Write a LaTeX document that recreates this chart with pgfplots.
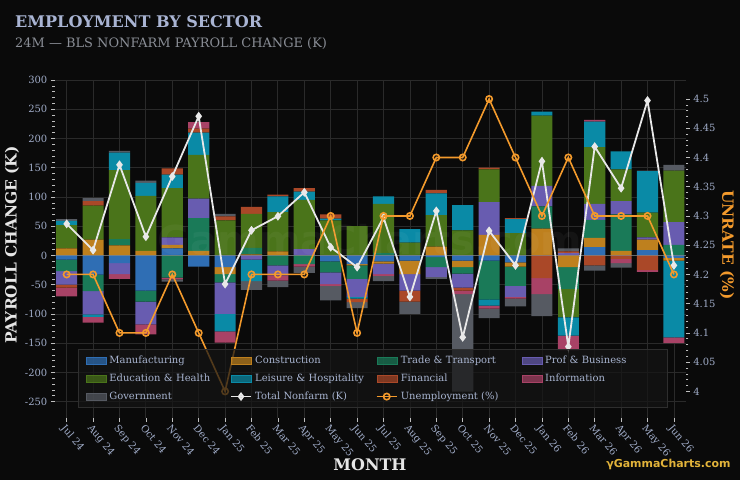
\documentclass[border=0pt]{standalone}
\usepackage{fontspec}
\setmainfont{DejaVu Serif}
\newfontfamily\logofont{DejaVu Sans}
\usepackage{pgfplots}
\usepackage{pgfplotstable}
\pgfplotsset{compat=1.18}

\definecolor{bg}{HTML}{0A0A0A}
\definecolor{gridc}{HTML}{2A2A2A}
\definecolor{tickc}{HTML}{BFBFBF}
\definecolor{ticklab}{HTML}{A0ACC8}
\definecolor{titlec}{HTML}{A9B4D3}
\definecolor{subc}{HTML}{8A8E96}
\definecolor{labc}{HTML}{E6E6E6}
\definecolor{legtext}{HTML}{A8B4D0}
\definecolor{legbg}{HTML}{151515}
\definecolor{legborder}{HTML}{2E2E2E}
\definecolor{cmfg}{HTML}{2F6EB4}
\definecolor{ccon}{HTML}{BE801E}
\definecolor{ctrd}{HTML}{1A7A58}
\definecolor{cprof}{HTML}{685CB0}
\definecolor{cedu}{HTML}{4A741A}
\definecolor{clei}{HTML}{0A8AA6}
\definecolor{cfin}{HTML}{AA4828}
\definecolor{cinfo}{HTML}{A84266}
\definecolor{cgov}{HTML}{565A62}
\definecolor{totc}{HTML}{E8E8E8}
\definecolor{urc}{HTML}{F39A2C}
\definecolor{logoc}{HTML}{E2B33A}

\pgfplotstableread{
i mfg con trd prof edu lei fin info gov total ur
0 -7 12 -20 -23 40 7 -5 -15 3 54 4.2
1 -33 27 -28 -40 58 -4 8 -10 5 9 4.2
2 -13 17 11 -19 118 30 0 -8 3 155 4.1
3 -60 8 -19 -39 94 22 0 -17 4 32 4.1
4 12 6 -38 13 84 23 11 -3 -4 135 4.2
5 -19 8 56 33 75 38 7 11 0 238 4.1
6 -20 -12 -14 -54 60 -30 7 -19 4 -49 4.0
7 0 2 11 -7 58 -37 12 0 -15 43 4.2
8 0 7 -17 -17 67 27 3 -9 -11 67 4.2
9 0 0 -15 11 84 14 6 -4 -11 108 4.2
10 -10 0 -19 -20 60 3 7 -3 -25 14 4.3
11 -15 -2 -23 -31 50 -3 -6 0 -10 -20 4.1
12 -10 -4 4 -18 84 13 0 -3 -9 65 4.3
13 -9 -23 0 -28 22 23 -19 0 -21 -71 4.3
14 -3 15 -17 -17 54 37 6 0 -3 76 4.4
15 -9 -11 -11 -24 43 43 -5 -6 -167 -140 4.4
16 -9 35 -66 56 56 -11 3 -5 -16 42 4.5
17 -12 -7 -33 -19 38 24 2 -3 -13 -17 4.4
18 0 46 38 35 120 7 -39 -27 -38 161 4.3
19 0 -20 -37 4 -49 -31 3 -25 5 -156 4.4
20 14 16 31 27 97 44 -17 3 -9 186 4.3
21 0 8 62 23 54 31 -6 -7 -8 115 4.3
22 9 18 0 4 42 71 -25 -3 1 265 4.3
23 -4 -5 18 39 88 -131 0 -10 10 -17 4.2
}\datatable

\pgfplotsset{
  frame/.style={at={(54.8bp,62bp)}, anchor=south west, scale only axis,
    width=631bp, height=338bp, xmin=-0.45, xmax=23.45,
    /pgf/number format/assume math mode=true},
  leftlim/.style={ymin=-278, ymax=300},
  mylineleg/.style={legend image code/.code={\draw[mark repeat=2,mark phase=2,##1] plot coordinates {(0bp,0bp) (10bp,0bp) (20bp,0bp)};}},
}
\newcommand\barlegend[2]{\addlegendimage{legend image code/.code={\fill[#1] (0bp,-3.2bp) rectangle (20bp,3.2bp);}}\addlegendentry{#2}}

\begin{document}
\begin{tikzpicture}
\useasboundingbox (0,0) rectangle (740bp,480bp);
\fill[bg] (0,0) rectangle (740bp,480bp);

% positive stacks, grid, left axis
\begin{axis}[frame, leftlim, ybar stacked, bar width=0.8,
  axis x line*=bottom, axis y line*=left,
  axis line style={draw=none},
  tick align=outside,
  major tick length=4bp, minor tick length=2.5bp,
  tick style={color=tickc, line width=0.6bp},
  xtick={0,...,23},
  xticklabels={Jul 24,Aug 24,Sep 24,Oct 24,Nov 24,Dec 24,Jan 25,Feb 25,Mar 25,Apr 25,May 25,Jun 25,Jul 25,Aug 25,Sep 25,Oct 25,Nov 25,Dec 25,Jan 26,Feb 26,Mar 26,Apr 26,May 26,Jun 26},
  ytick={-250,-200,...,300},
  minor y tick num=4,
  xmajorgrids, ymajorgrids,
  grid style={color=gridc, line width=0.8bp},
  tick label style={font=\fontsize{10}{12}\selectfont, text=ticklab},
  xticklabel style={rotate=-50, anchor=north west, inner sep=1bp},
]
\addplot[fill=cmfg, draw=none] table[x=i, y expr={max(\thisrow{mfg},0)}] {\datatable};
\addplot[fill=ccon, draw=none] table[x=i, y expr={max(\thisrow{con},0)}] {\datatable};
\addplot[fill=ctrd, draw=none] table[x=i, y expr={max(\thisrow{trd},0)}] {\datatable};
\addplot[fill=cprof, draw=none] table[x=i, y expr={max(\thisrow{prof},0)}] {\datatable};
\addplot[fill=cedu, draw=none] table[x=i, y expr={max(\thisrow{edu},0)}] {\datatable};
\addplot[fill=clei, draw=none] table[x=i, y expr={max(\thisrow{lei},0)}] {\datatable};
\addplot[fill=cfin, draw=none] table[x=i, y expr={max(\thisrow{fin},0)}] {\datatable};
\addplot[fill=cinfo, draw=none] table[x=i, y expr={max(\thisrow{info},0)}] {\datatable};
\addplot[fill=cgov, draw=none] table[x=i, y expr={max(\thisrow{gov},0)}] {\datatable};
\end{axis}

% negative stacks
\begin{axis}[frame, leftlim, hide axis, ybar stacked, bar width=0.8]
\addplot[fill=cmfg, draw=none] table[x=i, y expr={min(\thisrow{mfg},0)}] {\datatable};
\addplot[fill=ccon, draw=none] table[x=i, y expr={min(\thisrow{con},0)}] {\datatable};
\addplot[fill=ctrd, draw=none] table[x=i, y expr={min(\thisrow{trd},0)}] {\datatable};
\addplot[fill=cprof, draw=none] table[x=i, y expr={min(\thisrow{prof},0)}] {\datatable};
\addplot[fill=cedu, draw=none] table[x=i, y expr={min(\thisrow{edu},0)}] {\datatable};
\addplot[fill=clei, draw=none] table[x=i, y expr={min(\thisrow{lei},0)}] {\datatable};
\addplot[fill=cfin, draw=none] table[x=i, y expr={min(\thisrow{fin},0)}] {\datatable};
\addplot[fill=cinfo, draw=none] table[x=i, y expr={min(\thisrow{info},0)}] {\datatable};
\addplot[fill=cgov, draw=none] table[x=i, y expr={min(\thisrow{gov},0)}] {\datatable};
\end{axis}

% zero line and total nonfarm
\begin{axis}[frame, leftlim, hide axis]
\addplot[color=gray!80, opacity=0.55, line width=1.2bp, forget plot] coordinates {(-0.45,0) (23.45,0)};
\addplot[color=totc, line width=1.8bp, mark=diamond*, mark size=3bp, mark options={fill=totc}] table[x=i,y=total] {\datatable};
\end{axis}

% right axis, unemployment, legend
\begin{axis}[frame, ymin=3.9545, ymax=4.5325,
  axis y line*=right, axis x line=none,
  axis line style={draw=none},
  tick align=outside,
  major tick length=4bp, minor tick length=2.5bp,
  tick style={color=tickc, line width=0.6bp},
  ytick={4,4.05,4.1,4.15,4.2,4.25,4.3,4.35,4.4,4.45,4.5},
  yticklabels={4,4.05,4.1,4.15,4.2,4.25,4.3,4.35,4.4,4.45,4.5},
  minor y tick num=4,
  tick label style={font=\fontsize{10}{12}\selectfont, text=ticklab},
  legend columns=4, legend cell align=left,
  legend style={at={(0.036,0.203)}, anchor=north west,
    fill=legbg, fill opacity=0.72, draw=legborder, draw opacity=1, text opacity=1,
    text=legtext, font=\fontsize{10}{12}\selectfont,
    inner xsep=8bp, inner ysep=2bp, column sep=0bp, row sep=0bp,
    /tikz/every even column/.append style={column sep=6.4bp},
    nodes={text width=111bp, text height=8bp, text depth=2.5bp, inner ysep=3.75bp, inner xsep=3.3bp, text opacity=1}},
]
\barlegend{cmfg}{Manufacturing}
\barlegend{ccon}{Construction}
\barlegend{ctrd}{Trade \& Transport}
\barlegend{cprof}{Prof \& Business}
\barlegend{cedu}{Education \& Health}
\barlegend{clei}{Leisure \& Hospitality}
\barlegend{cfin}{Financial}
\barlegend{cinfo}{Information}
\barlegend{cgov}{Government}
\addlegendimage{mylineleg, color=totc, line width=1.8bp, mark=diamond*, mark size=3bp, mark options={fill=totc}}
\addlegendentry{Total Nonfarm (K)}
\addplot[mylineleg, color=urc, line width=1.6bp, mark=o, mark size=3.2bp] table[x=i,y=ur] {\datatable};
\addlegendentry{Unemployment (\%)}
\end{axis}

\node[anchor=base west, font=\fontsize{16.1}{18}\selectfont\bfseries, text=titlec, inner sep=0] at (15bp,452.3bp) {EMPLOYMENT BY SECTOR};
\node[anchor=base west, font=\fontsize{13}{15}\selectfont, text=subc, inner sep=0] at (15bp,432.3bp) {24M — BLS NONFARM PAYROLL CHANGE (K)};
\node[rotate=90, font=\fontsize{15.5}{17}\selectfont\bfseries, text=labc] at (12bp,235bp) {PAYROLL CHANGE (K)};
\node[rotate=-90, font=\fontsize{15.5}{17}\selectfont\bfseries, text=urc] at (727bp,235bp) {UNRATE (\%)};
\node[font=\fontsize{16}{18}\selectfont\bfseries, text=labc] at (370bp,15bp) {MONTH};
\node[text=white, opacity=0.045, font=\logofont\bfseries\fontsize{40}{40}\selectfont] at (370bp,240bp) {GammaCharts.com};
\node[anchor=east, text=logoc, font=\logofont\bfseries\fontsize{11}{12}\selectfont] at (734bp,16bp) {γGammaCharts.com};
\end{tikzpicture}
\end{document}
